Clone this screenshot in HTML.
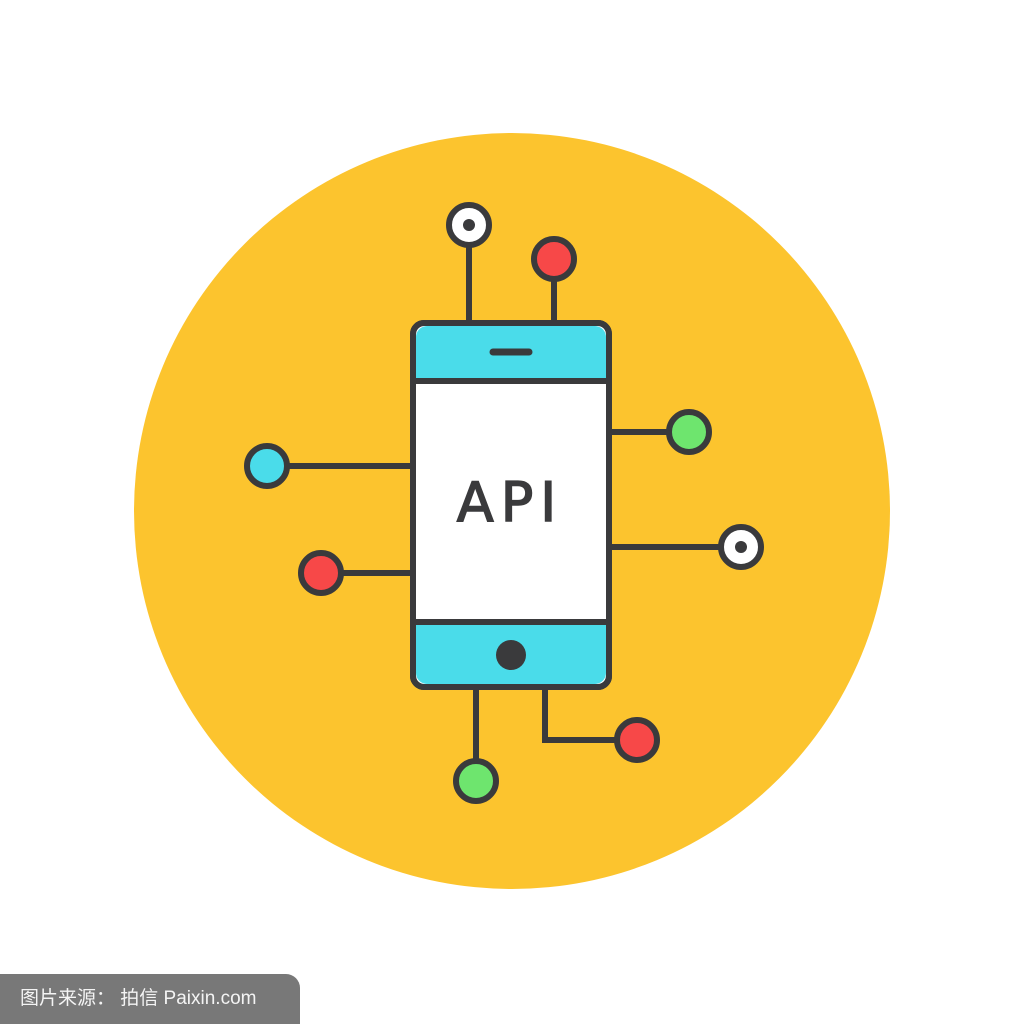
<!DOCTYPE html>
<html><head><meta charset="utf-8"><style>
html,body{margin:0;padding:0;background:#fff;width:1024px;height:1024px;overflow:hidden;position:relative}
.wm{position:absolute;left:0;top:974px;width:300px;height:50px;background:#787878;border-top-right-radius:14px;color:#f4f4f4;font:19px "Liberation Sans","Noto Sans CJK SC",sans-serif;line-height:50px;padding-left:20px;box-sizing:border-box;white-space:nowrap}
</style></head><body>
<svg width="1024" height="1024" viewBox="0 0 1024 1024" style="position:absolute;left:0;top:0">
<circle cx="512" cy="511" r="378" fill="#fcc42e"/>
<g stroke="#3a3a3c" stroke-width="6" fill="none" stroke-linecap="round">
<line x1="469" y1="247" x2="469" y2="321"/>
<line x1="554" y1="281" x2="554" y2="321"/>
<line x1="289" y1="466" x2="410" y2="466"/>
<line x1="343" y1="573" x2="410" y2="573"/>
<line x1="612" y1="432" x2="667" y2="432"/>
<line x1="612" y1="547" x2="719" y2="547"/>
<line x1="476" y1="690" x2="476" y2="759"/>
<polyline points="545,690 545,740 615,740"/>
</g>
<rect x="413" y="323" width="196" height="364" rx="11" fill="#fff" stroke="#3a3a3c" stroke-width="6"/>
<path d="M416,381 V337 a11,11 0 0 1 11,-11 H595 a11,11 0 0 1 11,11 V381 Z" fill="#4adcea"/>
<path d="M416,622 V673 a11,11 0 0 0 11,11 H595 a11,11 0 0 0 11,-11 V622 Z" fill="#4adcea"/>
<g stroke="#3a3a3c" stroke-width="6" fill="none">
<rect x="413" y="323" width="196" height="364" rx="11"/>
<line x1="413" y1="381" x2="609" y2="381"/>
<line x1="413" y1="622" x2="609" y2="622"/>
</g>
<line x1="493" y1="352" x2="529" y2="352" stroke="#3a3a3c" stroke-width="7" stroke-linecap="round"/>
<circle cx="511" cy="655" r="15" fill="#3a3a3c"/>
<g stroke="#3a3a3c" stroke-width="6">
<circle cx="469" cy="225" r="20" fill="#fff"/>
<circle cx="554" cy="259" r="20" fill="#f74848"/>
<circle cx="267" cy="466" r="20" fill="#4adcea"/>
<circle cx="321" cy="573" r="20" fill="#f74848"/>
<circle cx="689" cy="432" r="20" fill="#6ee56e"/>
<circle cx="741" cy="547" r="20" fill="#fff"/>
<circle cx="476" cy="781" r="20" fill="#6ee56e"/>
<circle cx="637" cy="740" r="20" fill="#f74848"/>
</g>
<circle cx="469" cy="225" r="6" fill="#3a3a3c"/>
<circle cx="741" cy="547" r="6" fill="#3a3a3c"/>
<text x="510" y="521" text-anchor="middle" font-family="DejaVu Sans, Liberation Sans, sans-serif" font-size="54" fill="#3a3a3c" stroke="#3a3a3c" stroke-width="1.5" letter-spacing="7">API</text>
</svg>
<div class="wm">图片来源： 拍信 Paixin.com</div>
</body></html>
